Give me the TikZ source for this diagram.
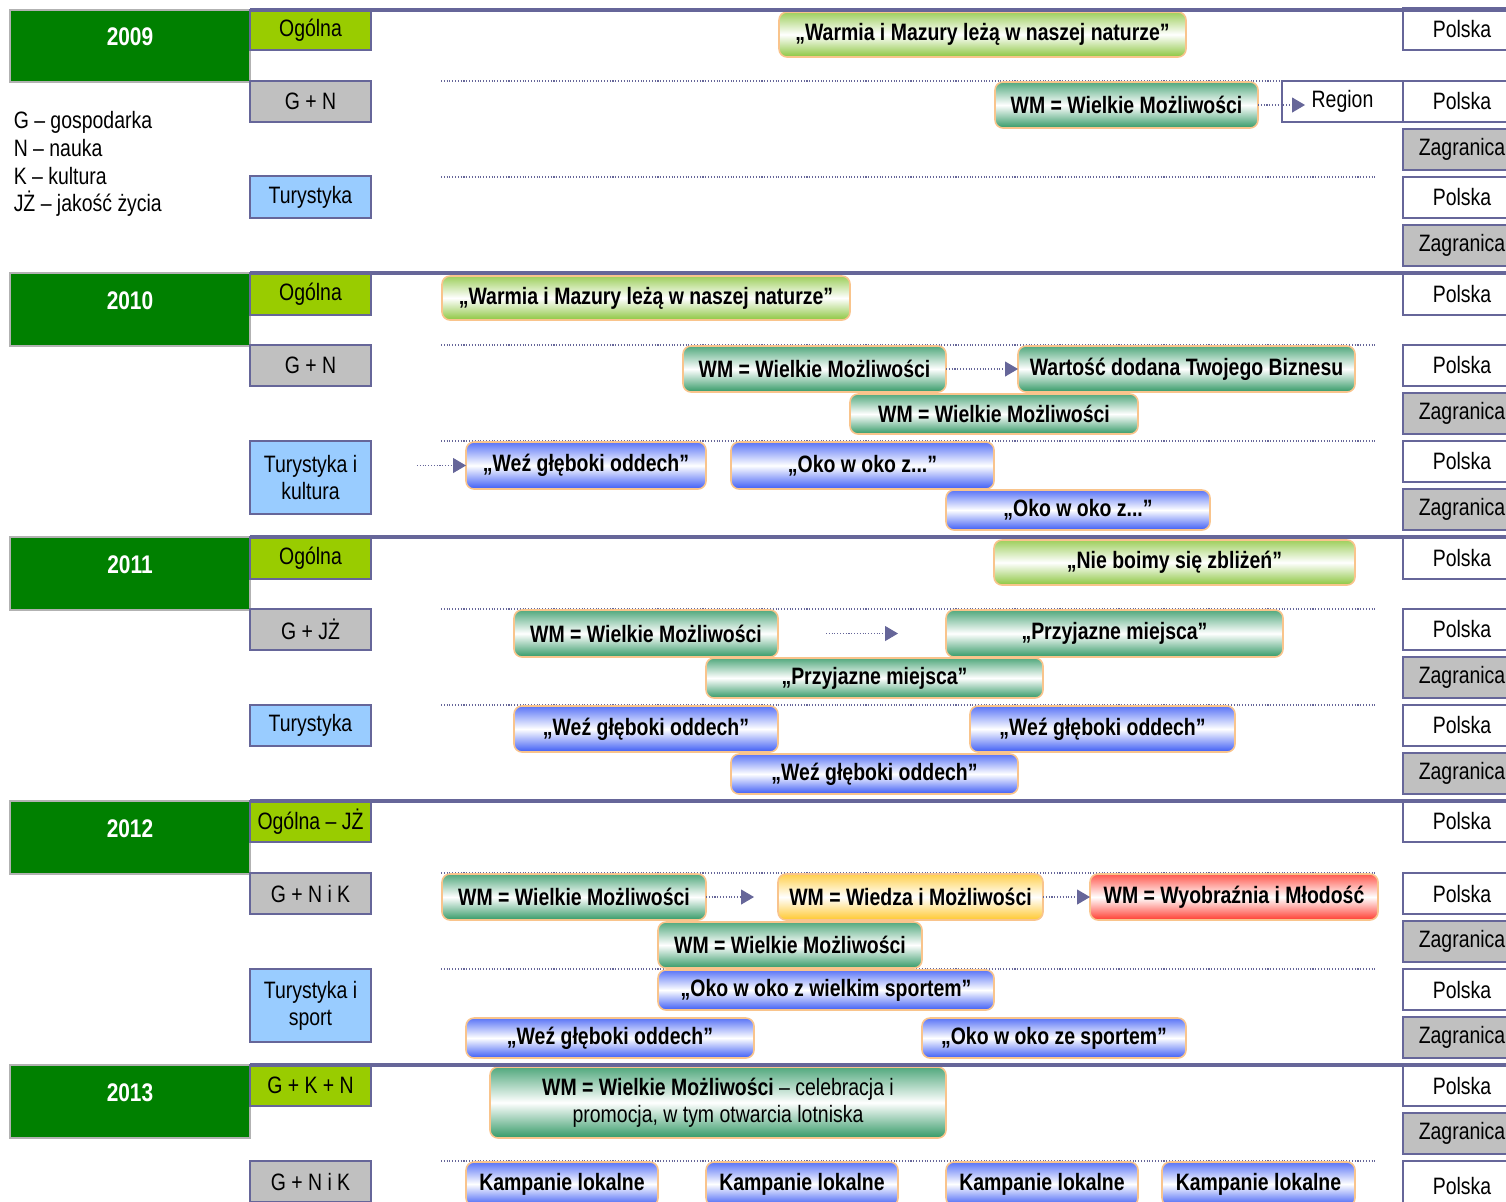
\documentclass[tikz,border=0pt]{standalone}
\usepackage{fontspec}
\setmainfont[FakeStretch=0.82]{Liberation Sans}
\usetikzlibrary{arrows.meta}

\definecolor{frame}{HTML}{666699}
\definecolor{yeargreen}{HTML}{008000}
\definecolor{catgreen}{HTML}{99CC00}
\definecolor{catgray}{HTML}{C0C0C0}
\definecolor{catblue}{HTML}{99CCFF}
\definecolor{campedge}{HTML}{F9C48C}
\definecolor{cpale}{HTML}{8CC63F}
\definecolor{cdark}{HTML}{339966}
\definecolor{cblue}{HTML}{3D5CF5}
\definecolor{cyellow}{HTML}{FFC82E}
\definecolor{cred}{HTML}{FF3B2F}

\begin{document}
\begin{tikzpicture}[x=0.02cm,y=-0.02cm,
    every node/.style={inner sep=1pt,outer sep=0pt,align=center,font=\fontsize{13.5}{15.5}\selectfont},
    yearbox/.style={fill=yeargreen,draw=gray!60,line width=0.8pt},
    yeartext/.style={text=white,font=\fontsize{14.5}{16}\selectfont\bfseries},
    catbox/.style={draw=frame,line width=1.1pt},
    ctry/.style={draw=frame,line width=0.9pt,fill=white},
    camp/.style={draw=campedge,line width=0.9pt,rounded corners=0.16cm,font=\fontsize{13.5}{15.5}\selectfont\bfseries},
    pale/.style={top color=cpale!85,bottom color=cpale,middle color=white},
    dark/.style={top color=cdark!85,bottom color=cdark,middle color=white},
    blu/.style={top color=cblue!85,bottom color=cblue,middle color=white},
    yel/.style={top color=cyellow!85,bottom color=cyellow,middle color=white},
    rd/.style={top color=cred!85,bottom color=cred,middle color=white},
    sepline/.style={frame,line width=2pt},
    dotline/.style={frame,densely dotted,line width=0.6pt},
    flow/.style={frame,densely dotted,line width=0.6pt,-{Triangle[length=0.26cm,width=0.3cm]}}]
    \providecommand{\bx}[7]{\node[#2,minimum width=(#5-#3)*0.02cm,minimum height=(#6-#4)*0.02cm] (#1) at ({(#3+#5)/2},{(#4+#6)/2}) {#7};}
    \useasboundingbox (0,0) rectangle (1506,1201);
    \clip (0,0) rectangle (1506,1201);

    % 2009
    \bx{y09}{yearbox}{10}{10}{250}{82}{}
    \node[yeartext] (t09) at (130,37) {2009};
    \node[anchor=north west,align=left,font=\fontsize{13.5}{15.7}\selectfont] (leg) at (12,110)
        {G – gospodarka\\N – nauka\\K – kultura\\JŻ – jakość życia};
    \bx{og09}{catbox,fill=catgreen}{250}{10}{371}{50}{Ogólna}
    \bx{gn09}{catbox,fill=catgray}{250}{81}{371}{122}{G + N}
    \bx{tu09}{catbox,fill=catblue}{250}{176}{371}{218}{Turystyka}
    \draw[dotline] (441,81) -- (1282,81);
    \draw[dotline] (441,177) -- (1376,177);
    \bx{p09a}{ctry}{1403}{8}{1521}{50}{Polska}
    \bx{reg09}{ctry}{1282}{81}{1403}{122}{Region}
    \bx{p09b}{ctry}{1403}{81}{1521}{122}{Polska}
    \bx{z09b}{ctry,fill=catgray}{1403}{129}{1521}{170}{Zagranica}
    \bx{p09c}{ctry}{1403}{177}{1521}{218}{Polska}
    \bx{z09c}{ctry,fill=catgray}{1403}{225}{1521}{266}{Zagranica}
    \bx{wmn09}{camp,pale}{779}{12}{1186}{57}{„Warmia i Mazury leżą w naszej naturze”}
    \bx{wm09}{camp,dark}{995}{82}{1258}{128}{WM = Wielkie Możliwości}
    \draw[flow] (wm09.east) -- ([xshift=0.46cm]wm09.east -| reg09.west);

    % 2010
    \bx{y10}{yearbox}{10}{273}{250}{346}{}
    \node[yeartext] (t10) at (130,301) {2010};
    \bx{og10}{catbox,fill=catgreen}{250}{273}{371}{315}{Ogólna}
    \bx{gn10}{catbox,fill=catgray}{250}{345}{371}{386}{G + N}
    \bx{tk10}{catbox,fill=catblue}{250}{441}{371}{514}{Turystyka i\\kultura}
    \draw[dotline] (441,345) -- (1376,345);
    \draw[dotline] (441,441) -- (1376,441);
    \bx{p10a}{ctry}{1403}{273}{1521}{315}{Polska}
    \bx{p10b}{ctry}{1403}{345}{1521}{386}{Polska}
    \bx{z10b}{ctry,fill=catgray}{1403}{393}{1521}{434}{Zagranica}
    \bx{p10c}{ctry}{1403}{441}{1521}{482}{Polska}
    \bx{z10c}{ctry,fill=catgray}{1403}{489}{1521}{530}{Zagranica}
    \bx{wmn10}{camp,pale}{442}{276}{850}{320}{„Warmia i Mazury leżą w naszej naturze”}
    \bx{wm10}{camp,dark}{683}{346}{946}{392}{WM = Wielkie Możliwości}
    \bx{wdb10}{camp,dark}{1018}{346}{1355}{392}{Wartość dodana Twojego Biznesu}
    \bx{wm10z}{camp,dark}{850}{394}{1138}{434}{WM = Wielkie Możliwości}
    \bx{wgo10}{camp,blu}{466}{442}{706}{489}{„Weź głęboki oddech”}
    \bx{oko10}{camp,blu}{731}{442}{994}{489}{„Oko w oko z...”}
    \bx{oko10z}{camp,blu}{946}{490}{1210}{530}{„Oko w oko z...”}
    \draw[flow] (wm10.east) -- (wdb10.west);
    \draw[flow,shorten <=0.92cm] (tk10.east |- wgo10.west) -- (wgo10.west);

    % 2011
    \bx{y11}{yearbox}{10}{537}{250}{610}{}
    \node[yeartext] (t11) at (130,565) {2011};
    \bx{og11}{catbox,fill=catgreen}{250}{537}{371}{579}{Ogólna}
    \bx{gj11}{catbox,fill=catgray}{250}{609}{371}{650}{G + JŻ}
    \bx{tu11}{catbox,fill=catblue}{250}{705}{371}{746}{Turystyka}
    \draw[dotline] (441,609) -- (1376,609);
    \draw[dotline] (441,705) -- (1376,705);
    \bx{p11a}{ctry}{1403}{537}{1521}{579}{Polska}
    \bx{p11b}{ctry}{1403}{609}{1521}{650}{Polska}
    \bx{z11b}{ctry,fill=catgray}{1403}{657}{1521}{698}{Zagranica}
    \bx{p11c}{ctry}{1403}{705}{1521}{746}{Polska}
    \bx{z11c}{ctry,fill=catgray}{1403}{753}{1521}{794}{Zagranica}
    \bx{nbs11}{camp,pale}{994}{540}{1355}{585}{„Nie boimy się zbliżeń”}
    \bx{wm11}{camp,dark}{514}{610}{778}{657}{WM = Wielkie Możliwości}
    \bx{pm11}{camp,dark}{946}{610}{1283}{657}{„Przyjazne miejsca”}
    \bx{pm11z}{camp,dark}{706}{658}{1043}{698}{„Przyjazne miejsca”}
    \bx{wgo11a}{camp,blu}{514}{706}{778}{752}{„Weź głęboki oddech”}
    \bx{wgo11b}{camp,blu}{970}{706}{1235}{752}{„Weź głęboki oddech”}
    \bx{wgo11z}{camp,blu}{731}{754}{1018}{794}{„Weź głęboki oddech”}
    \draw[flow,shorten <=0.96cm,shorten >=0.96cm] (wm11.east) -- (pm11.west);

    % 2012
    \bx{y12}{yearbox}{10}{801}{250}{874}{}
    \node[yeartext] (t12) at (130,829) {2012};
    \bx{og12}{catbox,fill=catgreen}{250}{801}{371}{842}{Ogólna – JŻ}
    \bx{gnk12}{catbox,fill=catgray}{250}{873}{371}{914}{G + N i K}
    \bx{ts12}{catbox,fill=catblue}{250}{969}{371}{1042}{Turystyka i\\sport}
    \draw[dotline] (441,873) -- (1376,873);
    \draw[dotline] (441,969) -- (1376,969);
    \bx{p12a}{ctry}{1403}{801}{1521}{842}{Polska}
    \bx{p12b}{ctry}{1403}{873}{1521}{914}{Polska}
    \bx{z12b}{ctry,fill=catgray}{1403}{921}{1521}{962}{Zagranica}
    \bx{p12c}{ctry}{1403}{969}{1521}{1010}{Polska}
    \bx{z12c}{ctry,fill=catgray}{1403}{1017}{1521}{1058}{Zagranica}
    \bx{wm12}{camp,dark}{442}{874}{706}{920}{WM = Wielkie Możliwości}
    \bx{wim12}{camp,yel}{778}{874}{1043}{920}{WM = Wiedza i Możliwości}
    \bx{wym12}{camp,rd}{1090}{874}{1378}{920}{WM = Wyobraźnia i Młodość}
    \bx{wm12z}{camp,dark}{658}{922}{922}{968}{WM = Wielkie Możliwości}
    \bx{oks12}{camp,blu}{658}{970}{994}{1010}{„Oko w oko z wielkim sportem”}
    \bx{wgo12}{camp,blu}{466}{1018}{754}{1058}{„Weź głęboki oddech”}
    \bx{okz12}{camp,blu}{922}{1018}{1186}{1058}{„Oko w oko ze sportem”}
    \draw[flow,shorten >=0.48cm] (wm12.east) -- (wim12.west);
    \draw[flow] (wim12.east) -- (wym12.west);

    % 2013
    \bx{y13}{yearbox}{10}{1065}{250}{1138}{}
    \node[yeartext] (t13) at (130,1093) {2013};
    \bx{gkn13}{catbox,fill=catgreen}{250}{1065}{371}{1106}{G + K + N}
    \bx{gnk13}{catbox,fill=catgray}{250}{1161}{371}{1202}{G + N i K}
    \draw[dotline] (441,1161) -- (1376,1161);
    \bx{p13a}{ctry}{1403}{1065}{1521}{1106}{Polska}
    \bx{z13a}{ctry,fill=catgray}{1403}{1113}{1521}{1154}{Zagranica}
    \bx{p13b}{ctry}{1403}{1161}{1521}{1210}{Polska}
    \bx{wmc13}{camp,dark,font=\fontsize{13.5}{15.5}\selectfont}{490}{1067}{946}{1138}{\textbf{WM = Wielkie Możliwości} – celebracja i\\promocja, w tym otwarcia lotniska}
    \bx{kl13a}{camp,blu}{466}{1162}{658}{1206}{Kampanie lokalne}
    \bx{kl13b}{camp,blu}{706}{1162}{898}{1206}{Kampanie lokalne}
    \bx{kl13c}{camp,blu}{946}{1162}{1138}{1206}{Kampanie lokalne}
    \bx{kl13d}{camp,blu}{1162}{1162}{1355}{1206}{Kampanie lokalne}

    % year separators
    \draw[sepline] (250,10) -- (1506,10);
    \draw[sepline] (250,273) -- (1506,273);
    \draw[sepline] (250,537) -- (1506,537);
    \draw[sepline] (250,801) -- (1506,801);
    \draw[sepline] (250,1065) -- (1506,1065);
\end{tikzpicture}
\end{document}
